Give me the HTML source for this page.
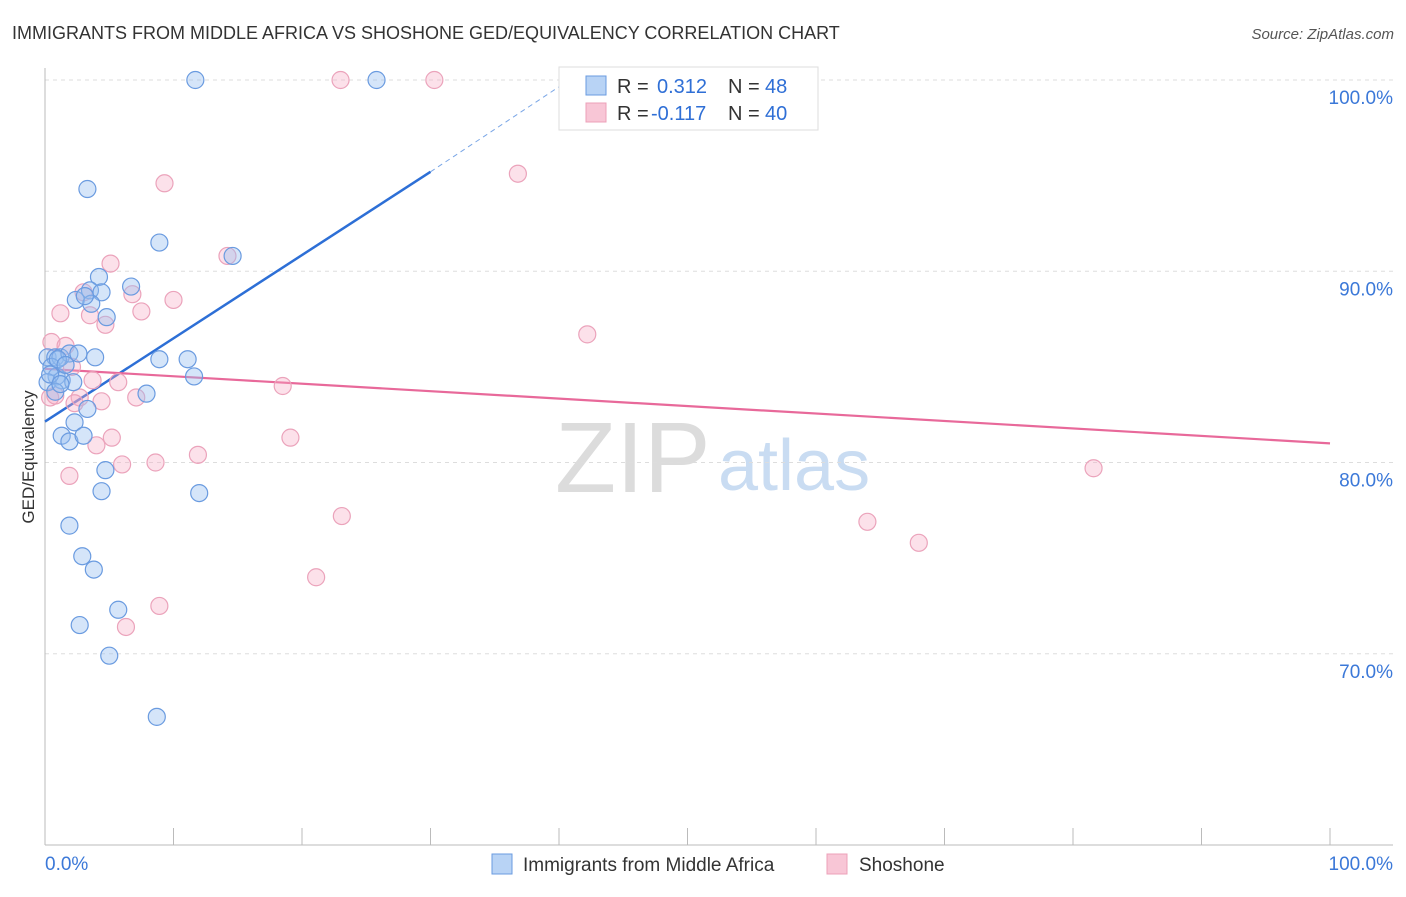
<!DOCTYPE html>
<html><head><meta charset="utf-8"><style>
body{margin:0;background:#fff;font-family:"Liberation Sans",sans-serif;}
svg text{font-family:"Liberation Sans",sans-serif;}
</style></head><body>
<svg id="chart" width="1406" height="892" xmlns="http://www.w3.org/2000/svg">
<text x="12" y="39" font-size="18" fill="#333">IMMIGRANTS FROM MIDDLE AFRICA VS SHOSHONE GED/EQUIVALENCY CORRELATION CHART</text>
<text x="1394" y="39" font-size="15" fill="#555" text-anchor="end" font-style="italic">Source: ZipAtlas.com</text>
<g>
<text x="555" y="492" font-size="100" fill="#dcdcdc" font-family="Liberation Serif,serif">ZIP</text>
<text x="718" y="490" font-size="72" fill="#c9dcf2">atlas</text>
</g>
<g id="grid"></g>
<g id="axes"></g>
<g id="trend"></g>
<g id="points"></g>
<g>
<rect x="559" y="67" width="259" height="63" fill="#fff" stroke="#ddd"/>
<rect x="586" y="76" width="20" height="19" fill="#b8d3f5" stroke="#6a9be0"/>
<text x="617" y="93" font-size="20" fill="#333">R = </text><text x="657" y="93" font-size="20" fill="#2f6fd6">0.312</text>
<text x="728" y="93" font-size="20" fill="#333">N = </text><text x="765" y="93" font-size="20" fill="#2f6fd6">48</text>
<rect x="586" y="103" width="20" height="19" fill="#f8c6d6" stroke="#eca0b8"/>
<text x="617" y="120" font-size="20" fill="#333">R = </text><text x="651" y="120" font-size="20" fill="#2f6fd6">-0.117</text>
<text x="728" y="120" font-size="20" fill="#333">N = </text><text x="765" y="120" font-size="20" fill="#2f6fd6">40</text>
</g>
<g>
<rect x="492" y="854" width="20" height="20" fill="#b8d3f5" stroke="#6a9be0"/>
<text x="523" y="871" font-size="19" fill="#333">Immigrants from Middle Africa</text>
<rect x="827" y="854" width="20" height="20" fill="#f8c6d6" stroke="#eca0b8"/>
<text x="859" y="871" font-size="19" fill="#333">Shoshone</text>
</g>
<text transform="translate(34,457) rotate(-90)" font-size="17" fill="#333" text-anchor="middle">GED/Equivalency</text>
</svg>
<script>
const blueX=[11.7,25.8,3.3,8.9,14.6,4.2,6.7,3.5,2.4,4.4,3.6,4.8,0.2,0.8,1.2,1.9,2.6,3.9,8.9,11.1,0.5,0.9,0.2,1.3,2.2,11.6,7.9,0.8,3.3,2.3,1.3,1.9,3.0,4.7,4.4,12.0,1.9,2.9,3.8,5.7,2.7,5.0,8.7,1.0,1.6,0.4,1.2,3.1];
const blueY=[100,100,94.3,91.5,90.8,89.7,89.2,89.0,88.5,88.9,88.3,87.6,85.5,85.5,85.5,85.7,85.7,85.5,85.4,85.4,85.0,84.5,84.2,84.3,84.2,84.5,83.6,83.7,82.8,82.1,81.4,81.1,81.4,79.6,78.5,78.4,76.7,75.1,74.4,72.3,71.5,69.9,66.7,85.4,85.1,84.6,84.1,88.7];
const pinkX=[23.0,30.3,36.8,9.3,14.2,5.1,6.8,10.0,3.0,1.2,3.5,7.5,4.7,42.2,0.5,1.6,2.1,3.7,5.7,18.5,0.4,2.7,7.1,4.4,2.3,5.2,19.1,4.0,11.9,6.0,8.6,1.9,81.6,23.1,64.0,68.0,21.1,8.9,6.3,0.8];
const pinkY=[100,100,95.1,94.6,90.8,90.4,88.8,88.5,88.9,87.8,87.7,87.9,87.2,86.7,86.3,86.1,85.0,84.3,84.2,84.0,83.4,83.4,83.4,83.2,83.1,81.3,81.3,80.9,80.4,79.9,80.0,79.3,79.7,77.2,76.9,75.8,74.0,72.5,71.4,83.5];
const blueTrend=[82.14,95.2,100]; const blueTrendX=[0,30,40.8];
const pinkTrend=[84.9,81.0]; const pinkTrendX=[0,100];
const yTicks=[100,90,80,70]; const yTickLabels=["100.0%","90.0%","80.0%","70.0%"];
const xTicks=[0,10,20,30,40,50,60,70,80,90,100];
const xLabels=["0.0%","100.0%"];
const NS="http://www.w3.org/2000/svg";
const sx=v=>45+v*12.85, sy=v=>845-(v-60)*19.125;
function mk(tag,attrs,parent){const e=document.createElementNS(NS,tag);for(const k in attrs)e.setAttribute(k,attrs[k]);document.getElementById(parent).appendChild(e);return e;}
yTicks.forEach((t,i)=>{
 const g=mk('line',{x1:45,x2:1393,y1:sy(t),y2:sy(t),stroke:'#ddd','stroke-dasharray':'4,4'},'grid');
 
 
 const l=mk('text',{x:1393,y:sy(t)+24,'font-size':19,fill:'#3b78d8','text-anchor':'end'},'axes');
 l.textContent=yTickLabels[i];
 
 
});
const ax=mk('line',{x1:45,x2:45,y1:68,y2:845,stroke:'#bbb'},'axes');


const bx=mk('line',{x1:45,x2:1393,y1:845,y2:845,stroke:'#bbb'},'axes');


xTicks.forEach(t=>{
 const k=mk('line',{x1:sx(t),x2:sx(t),y1:828,y2:845,stroke:'#bbb'},'axes');
 
 
});
const xl0=mk('text',{x:45,y:870,'font-size':19,fill:'#3b78d8'},'axes');xl0.textContent=xLabels[0];


const xl1=mk('text',{x:1393,y:870,'font-size':19,fill:'#3b78d8','text-anchor':'end'},'axes');xl1.textContent=xLabels[1];


function pts(X,Y,fill,stroke,name){X.forEach((x,i)=>{
 const c=mk('circle',{cx:sx(x),cy:sy(Y[i]),r:8.5,fill:fill,stroke:stroke,'stroke-width':1.2},'points');
 
 
});}
pts(pinkX,pinkY,'rgba(246,170,196,0.35)','#eba3bb','shoshone-point');
pts(blueX,blueY,'rgba(150,190,240,0.4)','#6a9be0','middle-africa-point');
const b1=mk('line',{x1:sx(blueTrendX[0]),y1:sy(blueTrend[0]),x2:sx(blueTrendX[1]),y2:sy(blueTrend[1]),stroke:'#2d6fd6','stroke-width':2.5},'trend');


const b2=mk('line',{x1:sx(blueTrendX[1]),y1:sy(blueTrend[1]),x2:sx(blueTrendX[2]),y2:sy(blueTrend[2]),stroke:'#7aa6e6','stroke-width':1,'stroke-dasharray':'5,4'},'trend');


const p1=mk('line',{x1:sx(pinkTrendX[0]),y1:sy(pinkTrend[0]),x2:sx(pinkTrendX[1]),y2:sy(pinkTrend[1]),stroke:'#e8699a','stroke-width':2.2},'trend');


</script>
</body></html>
